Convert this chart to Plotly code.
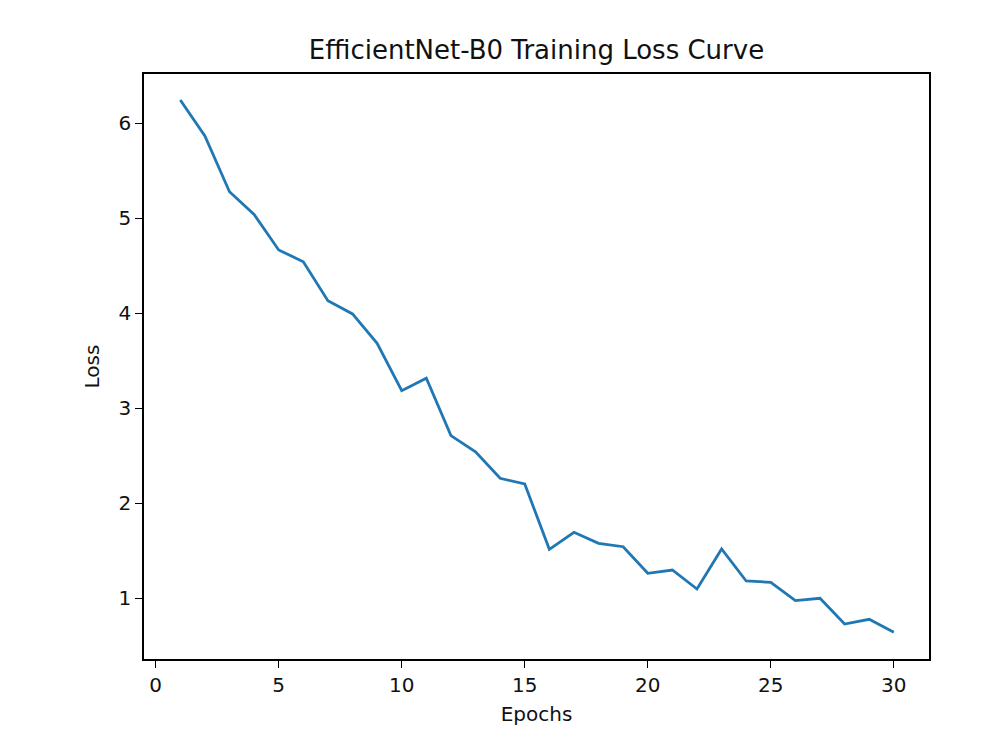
import plotly.graph_objects as go

epochs = list(range(1, 31))
loss = [6.245, 5.866, 5.28, 5.04, 4.667, 4.543, 4.133, 3.993, 3.684, 3.185,
        3.316, 2.712, 2.543, 2.263, 2.203, 1.516, 1.695, 1.579, 1.543, 1.263,
        1.298, 1.098, 1.519, 1.182, 1.168, 0.975, 1.0, 0.729, 0.779, 0.642]

x_ticks = [0, 5, 10, 15, 20, 25, 30]
y_ticks = [1, 2, 3, 4, 5, 6]

title_text = "EfficientNet-B0 Training Loss Curve"
x_label = "Epochs"
y_label = "Loss"

FONT = "DejaVu Sans"

fig = go.Figure()
fig.add_trace(go.Scatter(
    x=epochs, y=loss, mode="lines",
    line=dict(color="#1f77b4", width=2.8),
    showlegend=False,
))

axis_common = dict(
    showgrid=False, zeroline=False,
    showline=True, linecolor="black", linewidth=1.5, mirror=True,
    ticks="outside", ticklen=7, tickwidth=1.3, tickcolor="black",
    tickfont=dict(family=FONT, size=20, color="#111"),
)

fig.update_layout(
    width=1000, height=750,
    margin=dict(l=144, r=71, t=74, b=91),
    paper_bgcolor="white", plot_bgcolor="white",
    title=dict(text=title_text, x=0.5365, xanchor="center",
               yref="paper", y=1, yanchor="bottom", pad=dict(b=15),
               font=dict(family=FONT, size=26, color="#111")),
    xaxis=dict(range=[-0.475, 31.43], tickvals=x_ticks,
               title=dict(text=x_label, standoff=11,
                          font=dict(family=FONT, size=20, color="#111")),
               **axis_common),
    yaxis=dict(range=[0.361, 6.519], tickvals=y_ticks,
               title=dict(text=y_label, standoff=14,
                          font=dict(family=FONT, size=20, color="#111")),
               **axis_common),
)

fig.write_html("out.html")
